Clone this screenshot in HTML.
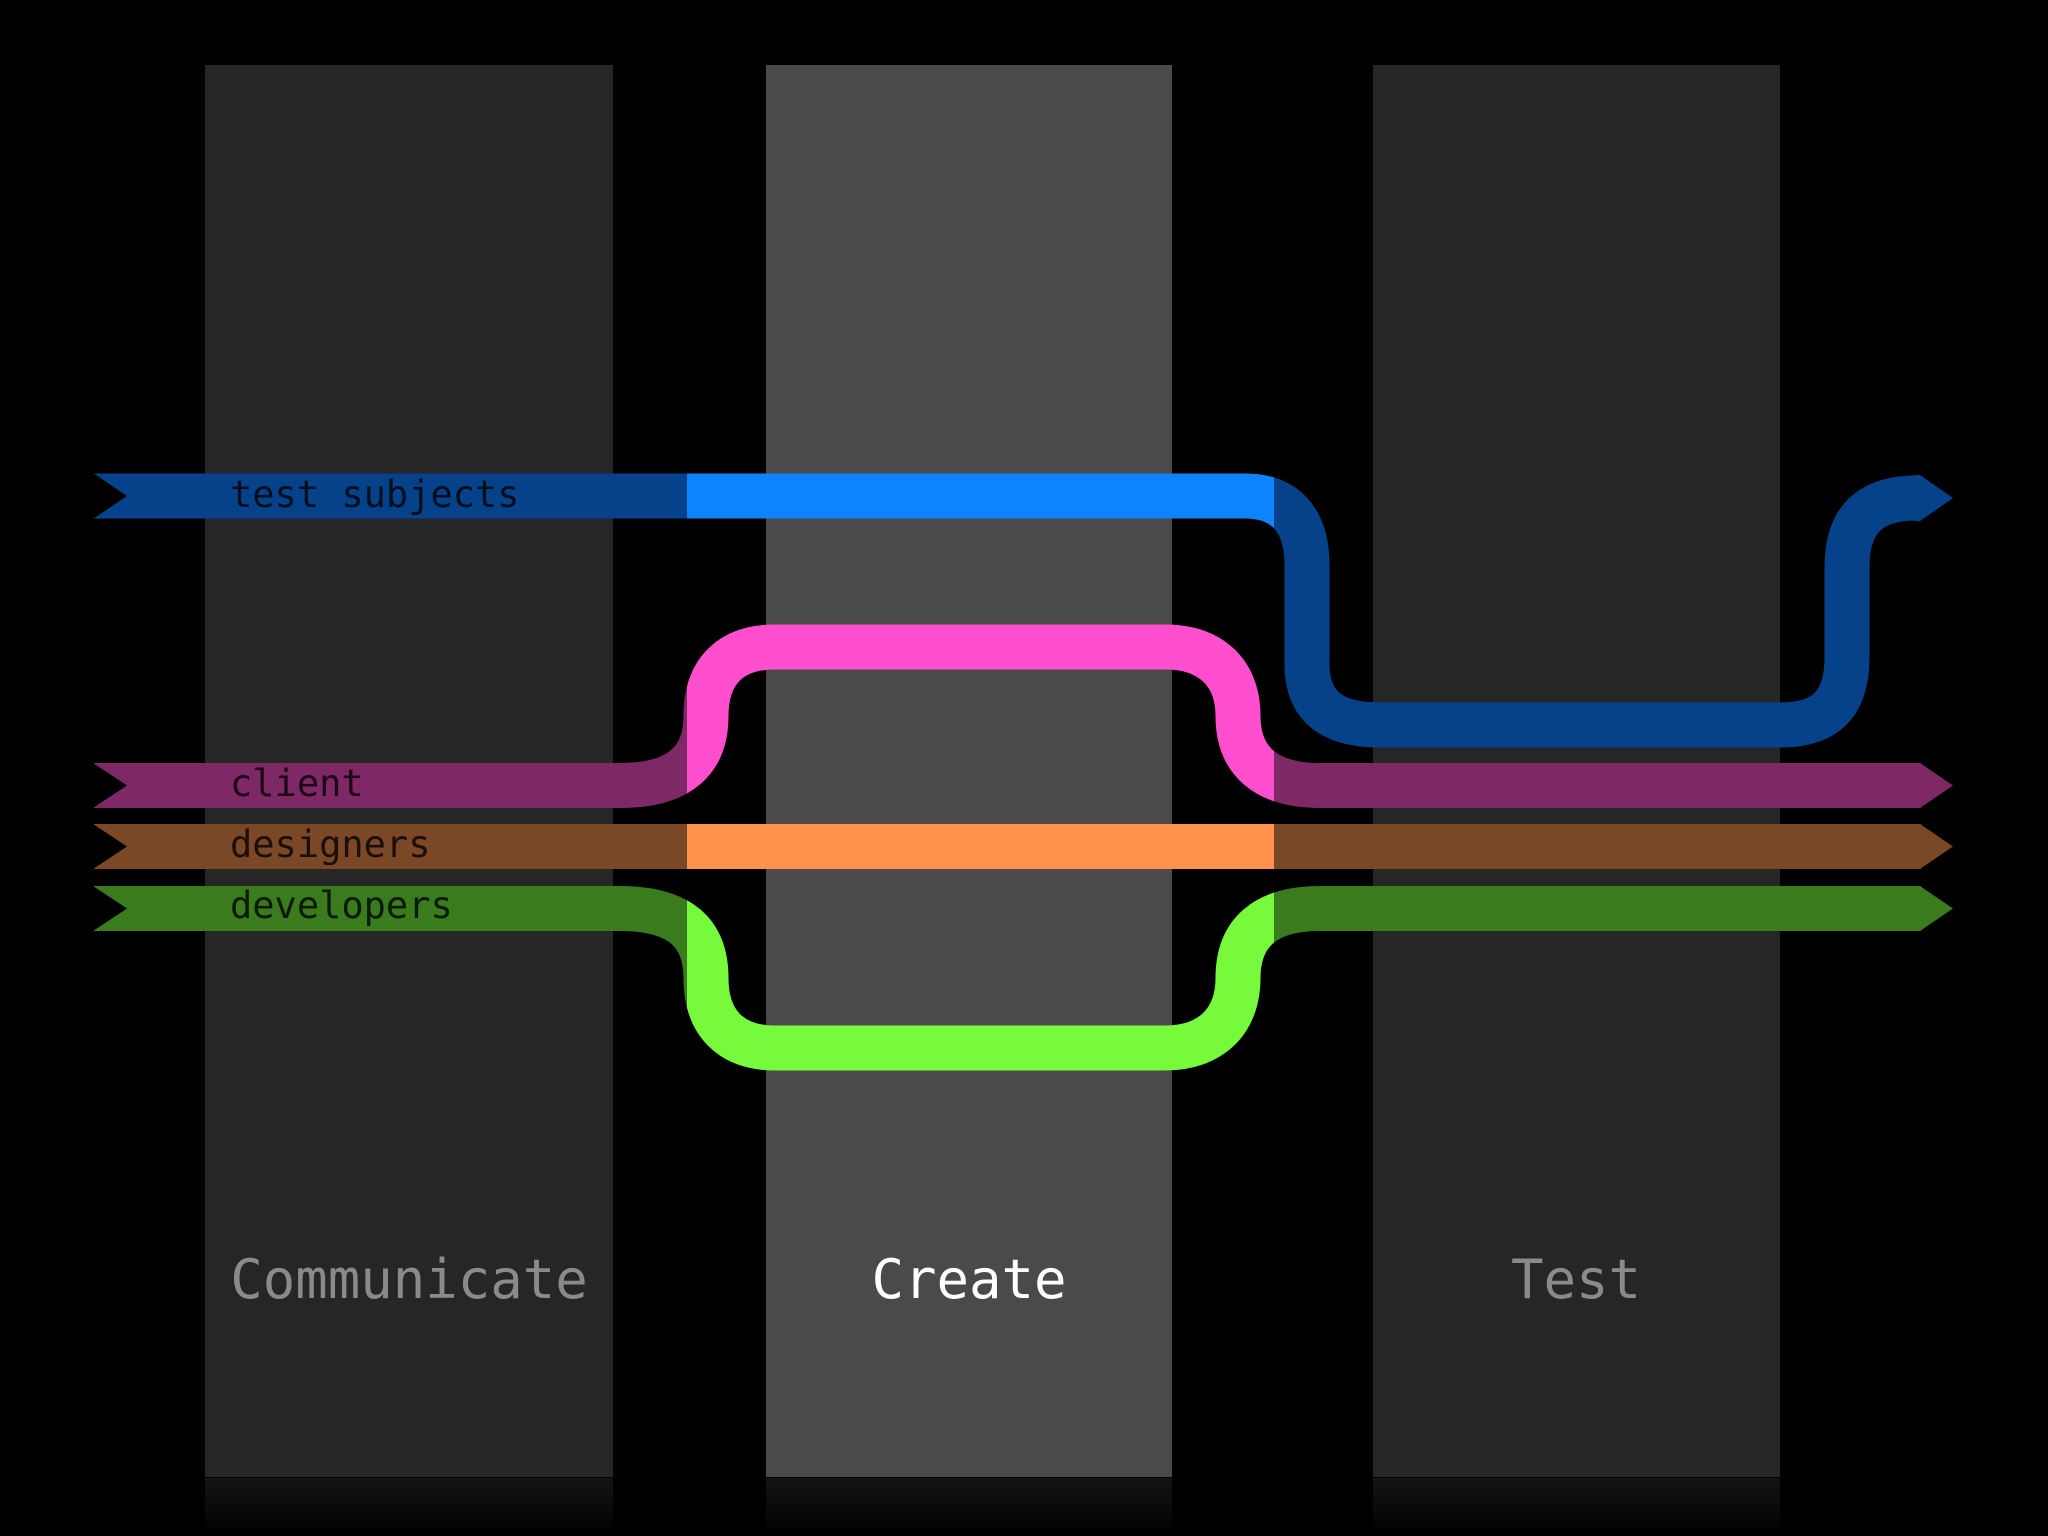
<!DOCTYPE html>
<html><head><style>
html,body{margin:0;padding:0;background:#000;}
svg{display:block;}
</style></head><body>
<svg width="2048" height="1536" viewBox="0 0 2048 1536" xmlns="http://www.w3.org/2000/svg">
<defs>
<clipPath id="mid"><rect x="687" y="0" width="587" height="1536"/></clipPath>
<clipPath id="out"><path d="M0 0H687V1536H0Z M1274 0H2048V1536H1274Z"/></clipPath>
<linearGradient id="refl" x1="0" y1="0" x2="0" y2="1"><stop offset="0" stop-color="#fff" stop-opacity="0.08"/><stop offset="1" stop-color="#fff" stop-opacity="0"/></linearGradient>
</defs>
<rect width="2048" height="1536" fill="#000"/>
<rect x="205" y="65" width="408" height="1412" fill="#262626"/>
<rect x="766" y="65" width="406" height="1412" fill="#4a4a4a"/>
<rect x="1373" y="65" width="407" height="1412" fill="#262626"/>
<rect x="205" y="1478" width="408" height="58" fill="url(#refl)"/>
<rect x="766" y="1478" width="406" height="58" fill="url(#refl)"/>
<rect x="1373" y="1478" width="407" height="58" fill="url(#refl)"/>

<g fill="none" stroke-width="45" stroke-linecap="butt">
<!-- blue -->
<path clip-path="url(#out)" stroke="#064289" d="M94 496 H1245 C1285 496 1307 520 1307 565 V664 C1307 705 1330 725 1380 725 H1780 C1825 725 1847 705 1847 657 V567 C1847 520 1870 498 1916 498"/>
<path clip-path="url(#mid)" stroke="#0d84fd" d="M94 496 H1245 C1285 496 1307 520 1307 565 V664"/>
<!-- pink -->
<path clip-path="url(#out)" stroke="#7f2866" d="M94 785.5 H620 C680 785.5 706 760 706 716 C706 672 730 647 775 647 H1165 C1210 647 1238 672 1238 716 C1238 760 1265 785.5 1320 785.5 H1921"/>
<path clip-path="url(#mid)" stroke="#ff4fcf" d="M94 785.5 H620 C680 785.5 706 760 706 716 C706 672 730 647 775 647 H1165 C1210 647 1238 672 1238 716 C1238 760 1265 785.5 1320 785.5 H1921"/>
<!-- orange -->
<path clip-path="url(#out)" stroke="#7a4727" d="M94 846.5 H1921"/>
<path clip-path="url(#mid)" stroke="#ff914d" d="M94 846.5 H1921"/>
<!-- green -->
<path clip-path="url(#out)" stroke="#3a7b1d" d="M94 908.5 H620 C680 908.5 706 933 706 978 C706 1022 730 1048 775 1048 H1165 C1210 1048 1238 1022 1238 978 C1238 933 1265 908.5 1320 908.5 H1921"/>
<path clip-path="url(#mid)" stroke="#78fa3c" d="M94 908.5 H620 C680 908.5 706 933 706 978 C706 1022 730 1048 775 1048 H1165 C1210 1048 1238 1022 1238 978 C1238 933 1265 908.5 1320 908.5 H1921"/>
</g>
<!-- arrowheads -->
<polygon fill="#064289" points="1914,475 1920,475 1953,498 1920,521 1914,521"/>
<polygon fill="#7f2866" points="1919,763 1920,763 1953,785.5 1920,808 1919,808"/>
<polygon fill="#7a4727" points="1919,824 1920,824 1953,846.5 1920,869 1919,869"/>
<polygon fill="#3a7b1d" points="1919,886 1920,886 1953,908.5 1920,931 1919,931"/>
<!-- notches -->
<polygon fill="#000" points="93,473 127,496 93,519"/>
<polygon fill="#000" points="93,763 127,785.5 93,808"/>
<polygon fill="#000" points="93,824 127,846.5 93,869"/>
<polygon fill="#000" points="93,886 127,908.5 93,931"/>

<g font-family="'DejaVu Sans Mono','Liberation Mono',monospace" font-size="37" fill="#000" fill-opacity="0.78">
<text x="230" y="507">test subjects</text>
<text x="230" y="796">client</text>
<text x="230" y="857">designers</text>
<text x="230" y="918">developers</text>
</g>
<g font-family="'DejaVu Sans Mono','Liberation Mono',monospace" font-size="54" text-anchor="middle">
<text x="409" y="1298" fill="#8a8a8a">Communicate</text>
<text x="969" y="1298" fill="#ffffff">Create</text>
<text x="1576" y="1298" fill="#8a8a8a">Test</text>
</g>
</svg>
</body></html>
